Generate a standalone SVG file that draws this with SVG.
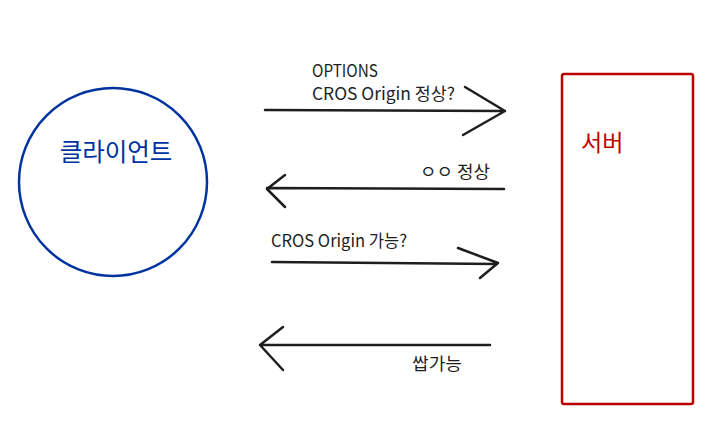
<svg xmlns="http://www.w3.org/2000/svg" width="709" height="422" viewBox="0 0 709 422">
<style>
.lbl{font-family:"Noto Sans CJK KR","Noto Sans",sans-serif;font-size:17px;fill:#1e1e1e}
.arr{fill:none;stroke:#1e1e1e;stroke-width:2.5;stroke-linecap:round;stroke-linejoin:round}
</style>
<rect width="709" height="422" fill="#fff"/>
<g id="client">
<circle cx="113" cy="182" r="94" fill="none" stroke="#0033a0" stroke-width="2.5"/>
<text x="116" y="161" text-anchor="middle" style="font-family:'Noto Sans CJK KR',sans-serif;font-size:24.5px;fill:#0033a0">클라이언트</text>
</g>
<g id="server">
<rect x="562" y="74" width="131" height="330" rx="2" fill="none" stroke="#c00000" stroke-width="2.5"/>
<text x="581" y="151" style="font-family:'Noto Sans CJK KR',sans-serif;font-size:23px;fill:#c00000">서버</text>
</g>
<g id="connectors">
<g id="arrow1">
<path class="arr" d="M265 110 L505 111 M465 87 L505 111 L463 135"/>
</g>
<g id="arrow2">
<path class="arr" d="M504 189 L267 188 M285 175 L267 189 L285 207"/>
</g>
<g id="arrow3">
<path class="arr" d="M272 262 L497 264 M458 248 L498 263 L480 278"/>
</g>
<g id="arrow4">
<path class="arr" d="M490 345 L260 345 M283 327 L260 345 L283 370"/>
</g>
</g>
<g id="labels">
<text class="lbl" x="312" y="77" textLength="66" lengthAdjust="spacingAndGlyphs">OPTIONS</text>
<text class="lbl" x="312" y="100" textLength="143" lengthAdjust="spacingAndGlyphs">CROS Origin 정상?</text>
<text class="lbl" x="420" y="178" textLength="70" lengthAdjust="spacingAndGlyphs">ㅇㅇ 정상</text>
<text class="lbl" x="271" y="247" textLength="136" lengthAdjust="spacingAndGlyphs">CROS Origin 가능?</text>
<text class="lbl" x="412" y="370" textLength="50" lengthAdjust="spacingAndGlyphs">쌉가능</text>
</g>
</svg>
